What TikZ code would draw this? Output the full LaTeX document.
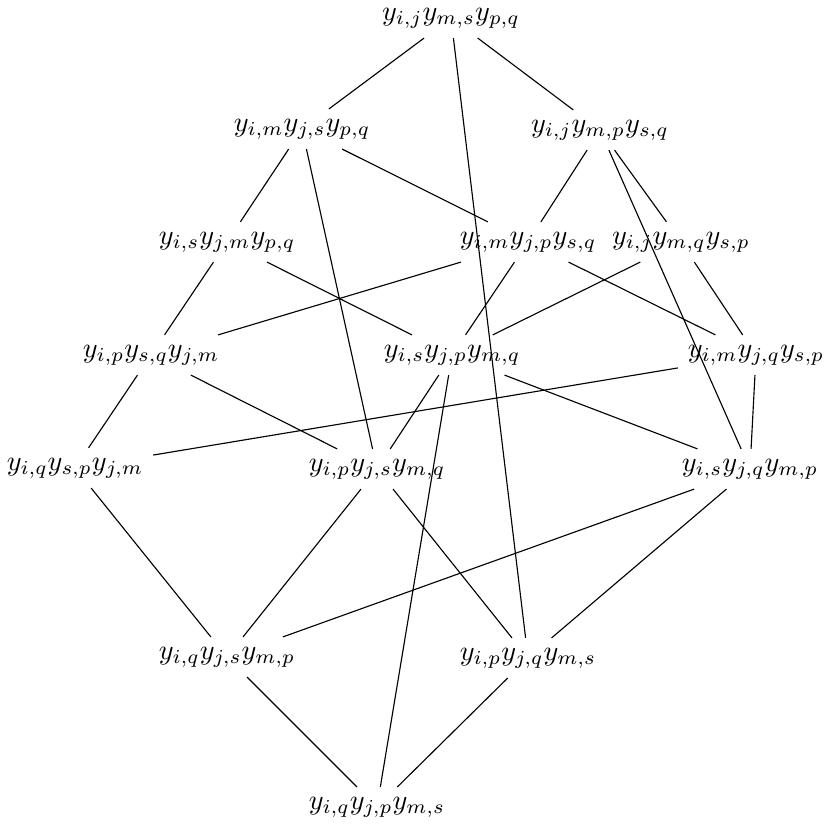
\documentclass[tikz,border=0pt]{standalone}
\begin{document}
\begin{tikzpicture}[x=0.01245cm, y=-0.01245cm]
\useasboundingbox (0,0) rectangle (823,824);
% oberste Zeile
\node (ijmspq) at (451,18) {$y_{i,j}y_{m,s}y_{p,q}$};
% zweite Zeile
\node (imjspq) at (302,129) {$y_{i,m}y_{j,s}y_{p,q}$};
\node (ijmpsq) at (600,130) {$y_{i,j}y_{m,p}y_{s,q}$};
% dritte Zeile
\node (isjmpq) at (227,242) {$y_{i,s}y_{j,m}y_{p,q}$};
\node (imjpsq) at (528,242) {$y_{i,m}y_{j,p}y_{s,q}$};
\node (ijmqsp) at (681,242) {$y_{i,j}y_{m,q}y_{s,p}$};
% vierte Zeile
\node (ipsqjm) at (151,355) {$y_{i,p}y_{s,q}y_{j,m}$};
\node (isjpmq) at (452,355) {$y_{i,s}y_{j,p}y_{m,q}$};
\node (imjqsp) at (756,355) {$y_{i,m}y_{j,q}y_{s,p}$};
% fuenfte Zeile
\node (iqspjm) at (75,468) {$y_{i,q}y_{s,p}y_{j,m}$};
\node (ipjsmq) at (377,469) {$y_{i,p}y_{j,s}y_{m,q}$};
\node (isjqmp) at (750,469) {$y_{i,s}y_{j,q}y_{m,p}$};
% sechste Zeile
\node (iqjsmp) at (227,657) {$y_{i,q}y_{j,s}y_{m,p}$};
\node (ipjqms) at (528,658) {$y_{i,p}y_{j,q}y_{m,s}$};
% unterste Zeile
\node (iqjpms) at (377,807) {$y_{i,q}y_{j,p}y_{m,s}$};
% Kanten
\foreach \a/\b in {ijmspq/imjspq, ijmspq/ijmpsq, ijmspq/ipjqms,
    imjspq/isjmpq, imjspq/imjpsq, imjspq/ipjsmq,
    ijmpsq/imjpsq, ijmpsq/ijmqsp, ijmpsq/isjqmp,
    isjmpq/ipsqjm, isjmpq/isjpmq,
    imjpsq/ipsqjm, imjpsq/isjpmq, imjpsq/imjqsp,
    ijmqsp/isjpmq, ijmqsp/imjqsp,
    ipsqjm/iqspjm, ipsqjm/ipjsmq,
    isjpmq/ipjsmq, isjpmq/isjqmp, isjpmq/iqjpms,
    imjqsp/iqspjm, imjqsp/isjqmp,
    iqspjm/iqjsmp, ipjsmq/iqjsmp, ipjsmq/ipjqms,
    isjqmp/iqjsmp, isjqmp/ipjqms,
    iqjsmp/iqjpms, ipjqms/iqjpms}
    \draw (\a) -- (\b);
\end{tikzpicture}
\end{document}
